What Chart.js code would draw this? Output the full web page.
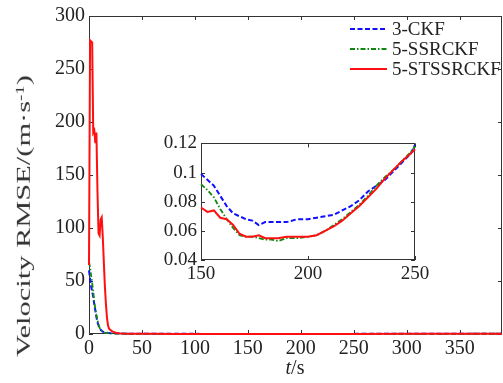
<!DOCTYPE html>
<html>
<head>
<meta charset="utf-8">
<script src="https://cdn.jsdelivr.net/npm/chart.js@4.4.1/dist/chart.umd.min.js"></script>
<style>
  body { margin: 0; background: #fff; }
  #wrap { position: relative; width: 503px; height: 383px; overflow: hidden; font-family: "Liberation Serif", "DejaVu Serif", serif; color: #222; }
  #main { position: absolute; left: 0; top: 0; }
  #inset { position: absolute; left: 150px; top: 128px; }
  #ylab { position: absolute; left: 24px; top: 216px; font-size: 26px; white-space: nowrap; line-height: 1; color: #333; }
  #xlab { position: absolute; left: 295px; top: 356px; font-size: 20px; transform: translateX(-50%); white-space: nowrap; }
  sup { font-size: 0.62em; vertical-align: 0.55em; }
</style>
</head>
<body>
<div id="wrap">
  <canvas id="main" width="503" height="383"></canvas>
  <canvas id="inset" width="290" height="162"></canvas>
  <div id="ylab">Velocity RMSE/(m·s<sup>-1</sup>)</div>
  <div id="xlab"><i>t</i>/s</div>
</div>
<script>
// main plot, time in s
var tMain = [0, 1, 2, 3, 4, 5, 6, 7, 8, 9, 10, 11, 12, 13, 14, 15, 16, 17, 18, 19, 20,
  22, 24, 26, 28, 30, 40, 60, 80, 100, 150, 200, 250, 300, 350, 390];
var ckfMain = [60, 52, 45, 40, 35, 28, 22, 16, 11, 8, 5.5, 4, 3, 2.2, 1.8, 1.5, 1.2, 1.1, 1, 0.9, 0.8,
  0.7, 0.6, 0.5, 0.45, 0.4, 0.3, 0.2, 0.15, 0.12, 0.099, 0.068, 0.119, 0.15, 0.2, 0.25];
var ssrMain = [68, 63, 55, 48, 40, 30, 24, 18, 13, 9, 6, 4, 3, 2, 1.5, 1.2, 1, 0.9, 0.8, 0.7, 0.6,
  0.5, 0.4, 0.35, 0.3, 0.25, 0.2, 0.15, 0.12, 0.1, 0.092, 0.056, 0.118, 0.15, 0.2, 0.25];
var stsMain = [65, 277, 276, 275, 190, 192, 180, 190, 135, 95, 93, 108, 110, 92, 68, 45, 28, 15, 8, 5, 4,
  2.5, 1.6, 1, 0.7, 0.4, 0.2, 0.12, 0.1, 0.09, 0.076, 0.056, 0.116, 0.15, 0.2, 0.25];

// zoomed window 150-250 s
var tZoom = [150, 153, 156, 159, 162, 165, 168, 171, 174, 177, 180, 183, 186, 190, 195,
  200, 204, 208, 212, 216, 220, 224, 228, 232, 236, 240, 244, 248, 250];
var ckfZoom = [0.099, 0.095, 0.091, 0.084, 0.077, 0.072, 0.070, 0.068, 0.067, 0.064, 0.066, 0.066, 0.066, 0.066, 0.068,
  0.068, 0.069, 0.070, 0.071, 0.074, 0.077, 0.081, 0.087, 0.091, 0.095, 0.101, 0.107, 0.113, 0.119];
var ssrZoom = [0.092, 0.088, 0.083, 0.075, 0.068, 0.062, 0.057, 0.056, 0.056, 0.055, 0.054, 0.054, 0.053, 0.055, 0.055,
  0.056, 0.057, 0.060, 0.064, 0.068, 0.073, 0.078, 0.084, 0.091, 0.097, 0.102, 0.108, 0.114, 0.118];
var stsZoom = [0.076, 0.073, 0.074, 0.069, 0.068, 0.064, 0.058, 0.056, 0.056, 0.057, 0.055, 0.055, 0.055, 0.056, 0.056,
  0.056, 0.057, 0.060, 0.063, 0.067, 0.072, 0.077, 0.083, 0.089, 0.096, 0.102, 0.108, 0.113, 0.116];

var labels = ["3-CKF", "5-SSRCKF", "5-STSSRCKF"];

var FONT = "'Liberation Serif', 'DejaVu Serif', serif";
var AXIS = "#333";

function pts(t, v) {
  return t.map(function (x, i) { return { x: x, y: v[i] }; });
}

function makeSets(t, a, b, c) {
  return [
    { label: labels[0], data: pts(t, a), borderColor: "#1010ff", borderWidth: 2, borderDash: [5, 2.5], order: 2 },
    { label: labels[1], data: pts(t, b), borderColor: "#118811", borderWidth: 1.8, borderDash: [5, 2, 1.5, 2], order: 1 },
    { label: labels[2], data: pts(t, c), borderColor: "#ff1010", borderWidth: 2, order: 0 },
  ].map(function (d) {
    d.pointRadius = 0;
    d.fill = false;
    d.tension = 0;
    d.clip = 3;
    return d;
  });
}

// box round the plot with inward ticks on all four sides
var frame = {
  id: "frame",
  beforeDatasetsDraw: function (chart, args, opts) {
    var ctx = chart.ctx, a = chart.chartArea, x = chart.scales.x, y = chart.scales.y;
    var L = opts.len || 4;
    ctx.save();
    ctx.strokeStyle = AXIS;
    ctx.lineWidth = 1;
    ctx.strokeRect(Math.round(a.left) + 0.5, Math.round(a.top) + 0.5,
      Math.round(a.right - a.left) - 1, Math.round(a.bottom - a.top) - 1);
    ctx.beginPath();
    x.ticks.forEach(function (t) {
      var px = Math.round(x.getPixelForValue(t.value)) + 0.5;
      ctx.moveTo(px, a.bottom); ctx.lineTo(px, a.bottom - L);
      ctx.moveTo(px, a.top); ctx.lineTo(px, a.top + L);
    });
    y.ticks.forEach(function (t) {
      var py = Math.round(y.getPixelForValue(t.value)) + 0.5;
      ctx.moveTo(a.left, py); ctx.lineTo(a.left + L, py);
      ctx.moveTo(a.right, py); ctx.lineTo(a.right - L, py);
    });
    ctx.stroke();
    ctx.restore();
  }
};

var lineLegend = {
  id: "lineLegend",
  afterDraw: function (chart, args, opts) {
    if (!opts.show) return;
    var ctx = chart.ctx;
    ctx.save();
    ctx.font = "19px " + FONT;
    ctx.textBaseline = "middle";
    ctx.fillStyle = "#222";
    chart.data.datasets.forEach(function (d, i) {
      var y = opts.y + i * opts.gap;
      ctx.strokeStyle = d.borderColor;
      ctx.lineWidth = d.borderWidth;
      ctx.setLineDash(d.borderDash || []);
      ctx.beginPath();
      ctx.moveTo(opts.x, y);
      ctx.lineTo(opts.x + 37, y);
      ctx.stroke();
      ctx.fillText(d.label, opts.x + 42, y + 1);
    });
    ctx.restore();
  }
};

function axisOpts(min, max, step, size, pad, fixW, fixH) {
  var o = {
    type: "linear",
    min: min,
    max: max,
    grid: { display: false, drawTicks: false, tickLength: 0 },
    border: { display: false },
    ticks: {
      stepSize: step,
      includeBounds: false,
      autoSkip: false,
      maxRotation: 0,
      color: "#222",
      padding: pad,
      font: { family: FONT, size: size },
    },
  };
  if (fixW) o.afterFit = function (s) { s.width = fixW; };
  if (fixH) o.afterFit = function (s) { s.height = fixH; };
  return o;
}

new Chart(document.getElementById("main"), {
  type: "line",
  data: { datasets: makeSets(tMain, ckfMain, ssrMain, stsMain) },
  options: {
    responsive: false,
    animation: false,
    devicePixelRatio: 1,
    layout: { padding: { left: 0, right: 1, top: 6, bottom: 0 } },
    scales: {
      x: axisOpts(0, 390, 50, 20, 3, 0, 49),
      y: axisOpts(0, 300, 50, 20, 4, 89, 0),
    },
    plugins: {
      legend: { display: false },
      tooltip: { enabled: false },
      frame: { len: 4 },
      lineLegend: { show: true, x: 350, y: 29, gap: 20 },
    },
  },
  plugins: [frame, lineLegend],
});

var insetY = axisOpts(0.04, 0.12, 0.02, 19, 4, 51, 0);
insetY.ticks.callback = function (v) { return String(+v.toFixed(2)); };

new Chart(document.getElementById("inset"), {
  type: "line",
  data: { datasets: makeSets(tZoom, ckfZoom, ssrZoom, stsZoom) },
  options: {
    responsive: false,
    animation: false,
    devicePixelRatio: 1,
    layout: { padding: { left: 0, right: 25, top: 15, bottom: 0 } },
    scales: {
      x: axisOpts(150, 250, 50, 19, 3, 0, 30),
      y: insetY,
    },
    plugins: {
      legend: { display: false },
      tooltip: { enabled: false },
      frame: { len: 4 },
      lineLegend: { show: false },
    },
  },
  plugins: [frame, lineLegend],
});

// the y title is squashed across and long along the axis in the figure
var yl = document.getElementById("ylab");
var k = 282 / yl.offsetWidth;
yl.style.transform = "translate(-50%, -50%) rotate(-90deg) scale(" + k.toFixed(3) + ", 0.72)";
</script>
</body>
</html>
